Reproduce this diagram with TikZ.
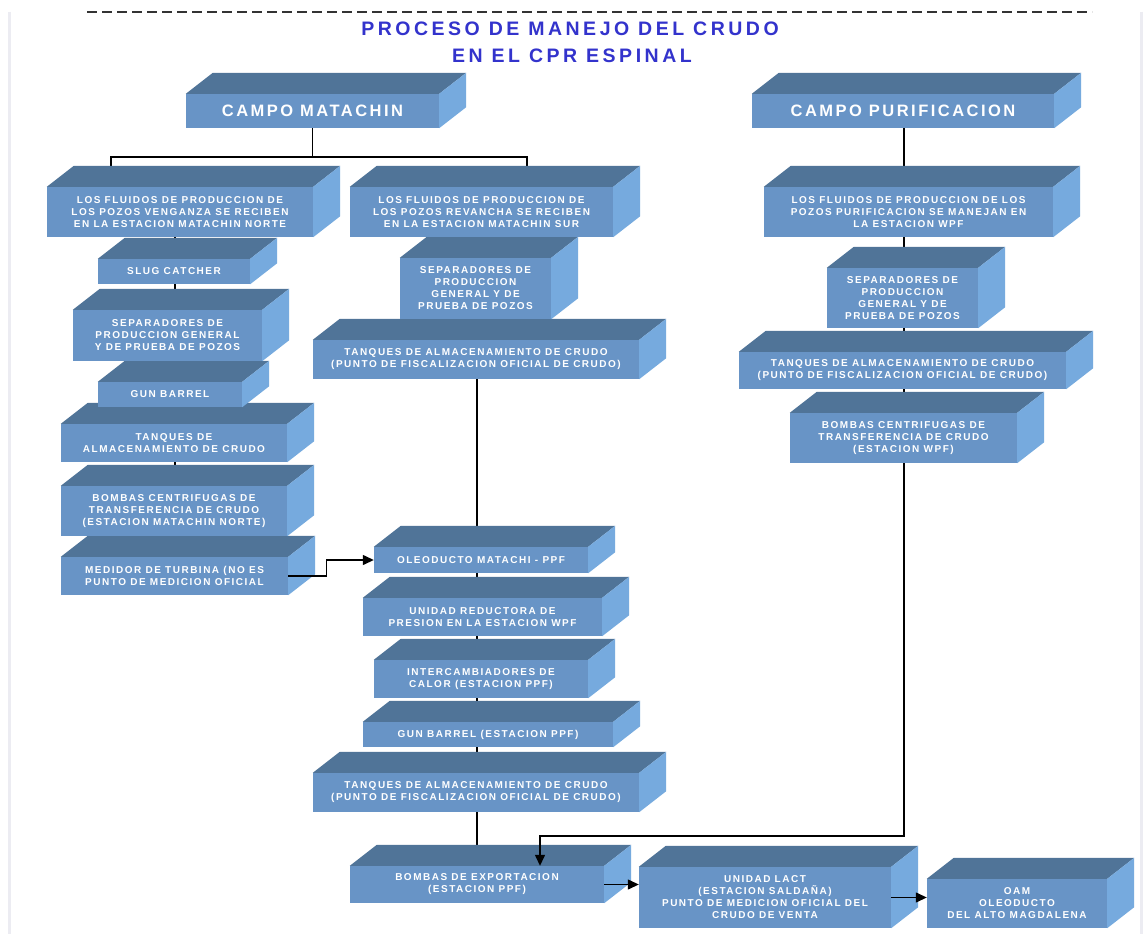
\documentclass[tikz,border=0pt]{standalone}
\usepackage{fontspec}
\newfontfamily\lblfont{Liberation Sans}[LetterSpace=15]
\newfontfamily\ttlfont{Liberation Sans}[LetterSpace=18]
\usetikzlibrary{arrows.meta}
\definecolor{facefront}{RGB}{104,148,198}
\definecolor{facetop}{RGB}{80,116,152}
\definecolor{faceside}{RGB}{118,170,222}
\definecolor{titleblue}{RGB}{51,51,204}
\definecolor{pageedge}{RGB}{236,236,242}
\pgfdeclarelayer{background}
\pgfsetlayers{background,main}

% 3-D block: [style]{name}{x1}{y1}{x2}{y2}{text}; the named node is the front face
\newcommand\boxcube[7][]{%
  \node[frontface,#1,minimum width={#5-#3},minimum height={#6-#4}] (#2)
    at ({(#3+#5)/2},{(#4+#6)/2}) {#7};
  \fill[facetop] (#2.north west) -- ++(27,-21)
    -- ([shift={(27,-21)}]#2.north east) -- (#2.north east) -- cycle;
  \fill[faceside] (#2.north east) -- ++(27,-21)
    -- ([shift={(27,-21)}]#2.south east) -- (#2.south east) -- cycle;
}

\begin{document}
\begin{tikzpicture}[x=1pt,y=-1pt,
  frontface/.style={fill=facefront,text=white,align=center,inner sep=0pt,
    font=\lblfont\bfseries\fontsize{10}{12}\selectfont},
  headface/.style={font=\lblfont\bfseries\fontsize{16.5}{19}\selectfont},
  titletext/.style={text=titleblue,anchor=base,inner sep=0pt,
    font=\ttlfont\bfseries\fontsize{19.5}{22}\selectfont},
  conn/.style={line width=1.3pt,black},
  arr/.style={conn,-{Triangle[length=11pt,width=10pt]}}]
\useasboundingbox (0,0) rectangle (1148,934);
\begin{pgfonlayer}{background}
  \fill[white] (0,0) rectangle (1148,934);
\end{pgfonlayer}

% page edges and rule
\draw[pageedge,line width=3pt] (9,12) -- (9,934);
\draw[pageedge,line width=3pt] (1141,12) -- (1141,934);
\draw[black!80,line width=1.4pt,dash pattern=on 10pt off 5pt] (87,12) -- (1092,12);

% title
\node[titletext] (t1) at (570,36) {PROCESO DE MANEJO DEL CRUDO};
\node[titletext] (t2) at (572,63) {EN EL CPR ESPINAL};

% bottom row
\boxcube{oam}{927}{879}{1107}{928}{OAM\\OLEODUCTO\\DEL ALTO MAGDALENA}
\boxcube{lact}{639}{867}{891}{928}{UNIDAD LACT\\(ESTACION SALDAÑA)\\PUNTO DE MEDICION OFICIAL DEL\\CRUDO DE VENTA}
\boxcube{exp}{350}{866}{604}{903}{BOMBAS DE EXPORTACION\\(ESTACION PPF)}

% middle column, lower part
\boxcube{tanq3}{313}{773}{639}{812}{TANQUES DE ALMACENAMIENTO DE CRUDO\\(PUNTO DE FISCALIZACION OFICIAL DE CRUDO)}
\boxcube{gun2}{363}{722}{613}{747}{GUN BARREL (ESTACION PPF)}
\boxcube{inter}{374}{660}{588}{698}{INTERCAMBIADORES DE\\CALOR (ESTACION PPF)}
\boxcube{unid}{363}{598}{602}{636}{UNIDAD REDUCTORA DE\\PRESION EN LA ESTACION WPF}
\boxcube{oleo}{374}{547}{588}{573}{OLEODUCTO MATACHI - PPF}

% left column
\boxcube{med}{61}{557}{288}{595}{MEDIDOR DE TURBINA (NO ES\\PUNTO DE MEDICION OFICIAL}
\boxcube{bomb1}{61}{486}{287}{536}{BOMBAS CENTRIFUGAS DE\\TRANSFERENCIA DE CRUDO\\(ESTACION MATACHIN NORTE)}
\boxcube{tanq1}{61}{424}{287}{462}{TANQUES DE\\ALMACENAMIENTO DE CRUDO}
\boxcube{gun1}{98}{382}{242}{407}{GUN BARREL}
\boxcube{sep1}{73}{310}{262}{361}{SEPARADORES DE\\PRODUCCION GENERAL\\Y DE PRUEBA DE POZOS}
\boxcube{slug}{98}{259}{250}{284}{SLUG CATCHER}
\boxcube{lf1}{47}{187}{313}{237}{LOS FLUIDOS DE PRODUCCION DE\\LOS POZOS VENGANZA SE RECIBEN\\EN LA ESTACION MATACHIN NORTE}

% middle column, upper part
\boxcube{tanq2}{313}{340}{639}{379}{TANQUES DE ALMACENAMIENTO DE CRUDO\\(PUNTO DE FISCALIZACION OFICIAL DE CRUDO)}
\boxcube{sep2}{400}{258}{551}{319}{SEPARADORES DE\\PRODUCCION\\GENERAL Y DE\\PRUEBA DE POZOS}
\boxcube{lf2}{350}{187}{613}{237}{LOS FLUIDOS DE PRODUCCION DE\\LOS POZOS REVANCHA SE RECIBEN\\EN LA ESTACION MATACHIN SUR}

% right column
\boxcube{bombR}{790}{413}{1017}{463}{BOMBAS CENTRIFUGAS DE\\TRANSFERENCIA DE CRUDO\\(ESTACION WPF)}
\boxcube{tanqR}{739}{352}{1066}{389}{TANQUES DE ALMACENAMIENTO DE CRUDO\\(PUNTO DE FISCALIZACION OFICIAL DE CRUDO)}
\boxcube{sepR}{827}{268}{978}{328}{SEPARADORES DE\\PRODUCCION\\GENERAL Y DE\\PRUEBA DE POZOS}
\boxcube{lfR}{764}{187}{1053}{237}{LOS FLUIDOS DE PRODUCCION DE LOS\\POZOS PURIFICACION SE MANEJAN EN\\LA ESTACION WPF}

% fields
\boxcube[headface]{cm}{186}{94}{439}{128}{CAMPO MATACHIN}
\boxcube[headface]{cp}{752}{94}{1054}{128}{CAMPO PURIFICACION}

% routing points
\coordinate (colL) at (175,0);
\coordinate (colM) at (477,0);
\coordinate (colR) at (904,0);
\coordinate (forkL) at (111,157);
\coordinate (forkR) at (527,157);
\coordinate (drop) at (540,836);

% connectors running behind the blocks
\begin{pgfonlayer}{background}
  \draw[conn] (cm.south) -- (cm.south |- forkL);
  \draw[conn] (forkL |- lf1.center) -- (forkL) -- (forkR) -- (forkR |- lf2.center);
  \draw[conn] (colL |- lf1.center) -- (colL |- med.center);
  \draw[conn] (colM |- lf2.center) -- (colM |- exp.center);
  \draw[conn] (colR |- cp.center) -- (colR |- bombR.center);
\end{pgfonlayer}

% arrows
\draw[arr] (colR |- bombR.south) |- (drop) -- (drop |- exp.north);
\draw[arr] (med.east) -- ++(38,0) |- (oleo.west);
\draw[arr] (exp.east) -- (exp.east -| lact.west);
\draw[arr] (lact.east) -- (lact.east -| oam.west);
\end{tikzpicture}
\end{document}
